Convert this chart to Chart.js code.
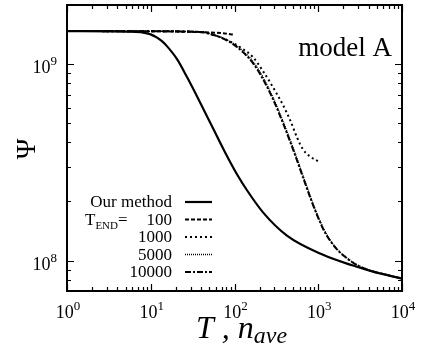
<!DOCTYPE html>
<html>
<head>
<meta charset="utf-8">
<script src="https://cdn.jsdelivr.net/npm/chart.js@4.4.1/dist/chart.umd.min.js"></script>
<style>
  html, body { margin: 0; padding: 0; background: #fff; }
  #wrap { width: 421px; height: 350px; position: relative; }
</style>
</head>
<body>
<div id="wrap"><canvas id="chart"></canvas></div>
<script>
// ---- data (log-log) ----
const xOur = [1, 3.3, 5.6, 8.1, 9.8, 11.9, 13.6, 15.6, 20.6, 27.1, 38.7, 55.4, 77, 107, 141, 219, 423, 1140, 2600, 4510, 10000];
const yOur = [1.474e9, 1.469e9, 1.464e9, 1.448e9, 1.422e9, 1.365e9, 1.31e9, 1.235e9, 1.06e9, 8.59e8, 6.4e8, 4.71e8, 3.56e8, 2.75e8, 2.28e8, 1.76e8, 1.34e8, 1.07e8, 9.43e7, 8.78e7, 8.09e7];

const x100 = [1, 10, 20, 40, 60, 80, 100];
const y100 = [1.474e9, 1.47e9, 1.465e9, 1.455e9, 1.445e9, 1.43e9, 1.41e9];

const x1000 = [1, 10, 40, 54, 71, 96, 126, 166, 219, 288, 380, 473, 557, 658, 797, 1000];
const y1000 = [1.474e9, 1.47e9, 1.457e9, 1.414e9, 1.36e9, 1.28e9, 1.193e9, 1.086e9, 9.21e8, 7.63e8, 6.18e8, 5.06e8, 4.24e8, 3.68e8, 3.39e8, 3.2e8];

const x5000 = [1, 10, 40, 54, 71, 96, 126, 166, 219, 288, 380, 500, 658, 842, 993, 1171, 1381, 1721, 2145, 2824, 4150, 5000];
const y5000 = [1.474e9, 1.47e9, 1.46e9, 1.42e9, 1.365e9, 1.275e9, 1.165e9, 1.03e9, 8.55e8, 6.75e8, 5.1e8, 3.75e8, 2.7e8, 2.01e8, 1.68e8, 1.44e8, 1.275e8, 1.13e8, 1.04e8, 9.58e7, 8.92e7, 8.75e7];

const x10000 = [1, 10, 40, 54, 71, 96, 126, 166, 219, 288, 380, 500, 658, 842, 993, 1171, 1381, 1721, 2145, 2824, 4150, 6440, 10000];
const y10000 = [1.474e9, 1.47e9, 1.457e9, 1.414e9, 1.357e9, 1.265e9, 1.151e9, 1.012e9, 8.39e8, 6.63e8, 5.0e8, 3.68e8, 2.65e8, 1.98e8, 1.66e8, 1.42e8, 1.265e8, 1.125e8, 1.036e8, 9.54e7, 8.89e7, 8.48e7, 8.09e7];

const xMajor = [1, 10, 100, 1000, 10000];
const xMajorExp = ["0", "1", "2", "3", "4"];
const yMajor = [1e8, 1e9];
const yMajorExp = ["8", "9"];

const legendLabels = ["Our method", "100", "1000", "5000", "10000"];

// ---- styles ----
const SERIF = "'Liberation Serif', 'DejaVu Serif', serif";
const styles = [
  { width: 2.2, dash: [] },
  { width: 2, dash: [4, 2] },
  { width: 2, dash: [2, 3] },
  { width: 1.6, dash: [1, 1] },
  { width: 2, dash: [6, 2, 2, 2] },
];

function pts(xs, ys) {
  return xs.map((x, i) => ({ x: x, y: ys[i] }));
}

const series = [
  pts(xOur, yOur),
  pts(x100, y100),
  pts(x1000, y1000),
  pts(x5000, y5000),
  pts(x10000, y10000),
];

const datasets = series.map((d, i) => ({
  label: legendLabels[i],
  data: d,
  borderColor: "#000",
  borderWidth: styles[i].width,
  borderDash: styles[i].dash,
  pointRadius: 0,
  fill: false,
  cubicInterpolationMode: "monotone",
}));

function minorValues(min, max) {
  const out = [];
  for (let e = Math.floor(Math.log10(min)); e <= Math.ceil(Math.log10(max)); e++) {
    for (let k = 2; k <= 9; k++) {
      const v = k * Math.pow(10, e);
      if (v > min && v < max) out.push(v);
    }
  }
  return out;
}

// frame, inward ticks, labels, titles, legend
const decorPlugin = {
  id: "decor",
  afterDatasetsDraw(chart) {
    const ctx = chart.ctx;
    const a = chart.chartArea;
    const xs = chart.scales.x;
    const ys = chart.scales.y;
    ctx.save();
    ctx.strokeStyle = "#000";
    ctx.fillStyle = "#000";

    // ticks
    ctx.lineWidth = 1.2;
    const tickX = (v, len) => {
      const p = Math.round(xs.getPixelForValue(v)) + 0.5;
      ctx.beginPath();
      ctx.moveTo(p, a.bottom); ctx.lineTo(p, a.bottom - len);
      ctx.moveTo(p, a.top); ctx.lineTo(p, a.top + len);
      ctx.stroke();
    };
    const tickY = (v, len) => {
      const p = Math.round(ys.getPixelForValue(v)) + 0.5;
      ctx.beginPath();
      ctx.moveTo(a.left, p); ctx.lineTo(a.left + len, p);
      ctx.moveTo(a.right, p); ctx.lineTo(a.right - len, p);
      ctx.stroke();
    };
    minorValues(xs.min, xs.max).forEach((v) => tickX(v, 4));
    xMajor.forEach((v) => tickX(v, 7));
    minorValues(ys.min, ys.max).forEach((v) => tickY(v, 4));
    yMajor.forEach((v) => tickY(v, 7));

    // frame
    ctx.lineWidth = 2;
    ctx.strokeRect(a.left, a.top, a.right - a.left, a.bottom - a.top);

    // tick labels
    const mainFont = "18px " + SERIF;
    const supFont = "13px " + SERIF;
    ctx.textBaseline = "alphabetic";
    xMajor.forEach((v, i) => {
      const p = xs.getPixelForValue(v);
      ctx.font = mainFont;
      const w1 = ctx.measureText("10").width;
      ctx.font = supFont;
      const w2 = ctx.measureText(xMajorExp[i]).width;
      const x0 = p + 1 - (w1 + w2) / 2;
      ctx.textAlign = "left";
      ctx.font = mainFont;
      ctx.fillText("10", x0, 318);
      ctx.font = supFont;
      ctx.fillText(xMajorExp[i], x0 + w1, 310);
    });
    yMajor.forEach((v, i) => {
      const p = ys.getPixelForValue(v);
      ctx.font = supFont;
      const w2 = ctx.measureText(yMajorExp[i]).width;
      ctx.textAlign = "left";
      ctx.fillText(yMajorExp[i], 57 - w2, p + 1);
      ctx.font = mainFont;
      ctx.textAlign = "right";
      ctx.fillText("10", 57 - w2, p + 9);
    });

    // y title
    ctx.save();
    ctx.translate(35, 149);
    ctx.rotate(-Math.PI / 2);
    ctx.textAlign = "center";
    ctx.font = "28px " + SERIF;
    ctx.fillText("\u03A8", 0, 0);
    ctx.restore();

    // x title
    ctx.textAlign = "left";
    ctx.font = "italic 32px " + SERIF;
    let tx = 196;
    ctx.fillText("T", tx, 338);
    tx += ctx.measureText("T").width;
    ctx.fillText(" , n", tx, 338);
    tx += ctx.measureText(" , n").width;
    ctx.font = "italic 24px " + SERIF;
    ctx.fillText("ave", tx, 343);

    // panel label
    ctx.font = "27px " + SERIF;
    ctx.textAlign = "right";
    ctx.fillText("model A", 392, 56);

    // legend
    const rowY = [202, 219.5, 237, 254.5, 272];
    ctx.font = "17px " + SERIF;
    ctx.textAlign = "right";
    legendLabels.forEach((lab, i) => {
      ctx.fillText(lab, 172, rowY[i] + 5);
      ctx.beginPath();
      ctx.lineWidth = styles[i].width;
      ctx.setLineDash(styles[i].dash);
      ctx.moveTo(185, rowY[i]);
      ctx.lineTo(212, rowY[i]);
      ctx.stroke();
    });
    ctx.setLineDash([]);
    ctx.textAlign = "left";
    ctx.font = "17px " + SERIF;
    let lx = 85;
    ctx.fillText("T", lx, rowY[1] + 5);
    lx += ctx.measureText("T").width;
    ctx.font = "11px " + SERIF;
    ctx.fillText("END", lx, rowY[1] + 9);
    lx += ctx.measureText("END").width;
    ctx.font = "17px " + SERIF;
    ctx.fillText("=", lx, rowY[1] + 5);

    ctx.restore();
  },
};

new Chart(document.getElementById("chart"), {
  type: "line",
  data: { datasets },
  options: {
    responsive: true,
    maintainAspectRatio: false,
    animation: false,
    layout: { padding: { left: 67, right: 19, top: 5, bottom: 59 } },
    scales: {
      x: { type: "logarithmic", min: 1, max: 10000, display: false },
      y: { type: "logarithmic", min: 7e7, max: 2e9, display: false },
    },
    plugins: {
      legend: { display: false },
      tooltip: { enabled: false },
    },
  },
  plugins: [decorPlugin],
});
</script>
</body>
</html>
